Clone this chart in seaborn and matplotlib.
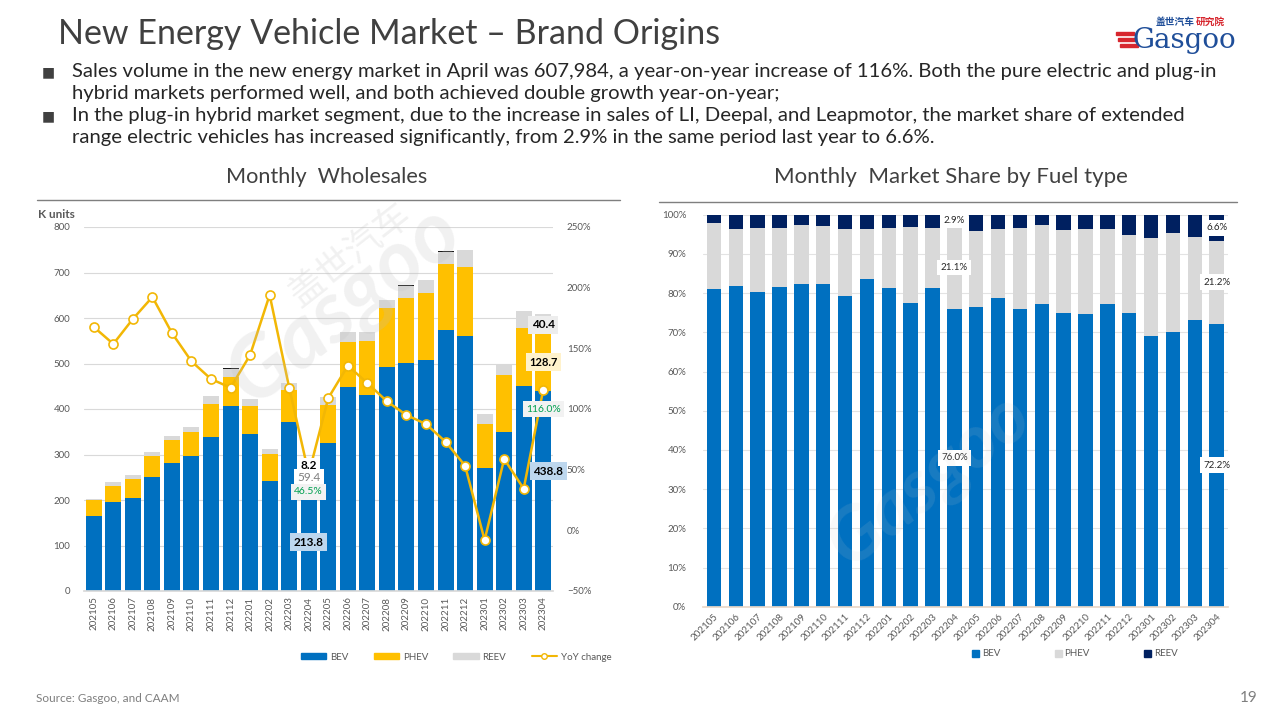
import numpy as np
import pandas as pd
import matplotlib
matplotlib.use("Agg")
import matplotlib.pyplot as plt
from matplotlib.patches import Patch, Rectangle
from matplotlib.lines import Line2D
from matplotlib.ticker import PercentFormatter
import seaborn as sns

# ---- data ----
months = ['202105', '202106', '202107', '202108', '202109', '202110', '202111', '202112',
          '202201', '202202', '202203', '202204', '202205', '202206', '202207', '202208',
          '202209', '202210', '202211', '202212', '202301', '202302', '202303', '202304']

# monthly wholesales, K units
bev = [165, 196, 205, 251, 282, 297, 339, 407, 344, 242, 372, 213.8,
       326, 448, 431, 493, 502, 508, 574, 561, 271, 349, 450, 438.8]
phev = [35, 35, 42, 46, 50, 53, 73, 64, 63, 59, 70, 59.4,
        83, 99, 118, 128, 143, 147, 144, 150, 96, 126, 129, 128.7]
reev = [2, 9, 8, 8, 8, 11, 16, 17, 15, 12, 16, 8.2,
        17, 22, 20, 18, 26, 28, 27, 38, 23, 24, 36, 40.4]
fcev = [0, 0, 0, 0, 0, 0, 0, 1.5, 0, 0, 0, 0,
        0, 0, 0, 1.5, 1.5, 1.5, 1.5, 0, 0, 0, 0, 0]
yoy = [167.6, 153.6, 174.2, 192.3, 162.6, 139.3, 124.7, 117.6, 144.5, 194.0, 117.6, 46.5,
       109.0, 135.7, 121.4, 106.3, 95.0, 87.6, 73.0, 53.3, -8.0, 58.8, 34.3, 116.0]

# market share by fuel type, %
bev_share = [81.0, 81.9, 80.4, 81.6, 82.3, 82.3, 79.3, 83.7, 81.3, 77.4, 81.3, 76.0,
             76.5, 78.8, 75.9, 77.2, 74.9, 74.6, 77.2, 74.9, 69.1, 70.1, 73.1, 72.2]
phev_share = [17.0, 14.4, 16.1, 15.0, 15.0, 14.8, 17.0, 12.6, 15.3, 19.5, 15.3, 21.1,
              19.3, 17.5, 20.7, 20.2, 21.2, 21.7, 19.1, 19.9, 25.0, 25.2, 21.2, 21.2]
reev_share = [2.0, 3.7, 3.5, 3.4, 2.7, 2.9, 3.7, 3.7, 3.4, 3.1, 3.4, 2.9,
              4.2, 3.7, 3.4, 2.6, 3.9, 3.7, 3.7, 5.2, 5.9, 4.7, 5.7, 6.6]

title = "New Energy Vehicle Market \u2013 Brand Origins"
bullets = [
    ["Sales volume in the new energy market in April was 607,984, a year-on-year increase of 116%. Both the pure electric and plug-in",
     "hybrid markets performed well, and both achieved double growth year-on-year;"],
    ["In the plug-in hybrid market segment, due to the increase in sales of LI, Deepal, and Leapmotor, the market share of extended",
     "range electric vehicles has increased significantly, from 2.9% in the same period last year to 6.6%."],
]

BLUE = "#0070C0"
GOLD = "#FFC000"
LGRAY = "#D9D9D9"
NAVY = "#002060"
LINE = "#F2B705"
TICK = "#595959"

sns.set_theme(style="white")
plt.rcParams['font.family'] = ['Lato', 'DejaVu Sans']

W, H = 1280, 720
fig = plt.figure(figsize=(12.8, 7.2), dpi=100)
fig.patch.set_facecolor("white")


def box(x0, y0, x1, y1):
    return [x0 / W, 1 - y1 / H, (x1 - x0) / W, (y1 - y0) / H]


def fx(x):
    return x / W


def fy(y):
    return 1 - y / H


# ---- header ----
fig.text(fx(58), fy(34), title, fontsize=24.5, color="#404040", va="center")
by = [72, 116]
for yy, lines in zip(by, bullets):
    fig.text(fx(42), fy(yy), "\u25A0", fontsize=10, color="#404040", va="center",
             family=['DejaVu Sans'])
    for j, ln in enumerate(lines):
        fig.text(fx(72), fy(yy + j * 22), ln, fontsize=14.6, color="#262626", va="center")

# logo
fig.text(fx(1156), fy(22), "盖世汽车", fontsize=7, color="#1F4E99", va="center",
         family=['Noto Sans CJK SC'], fontweight="bold")
fig.text(fx(1196), fy(22), "研究院", fontsize=7, color="#D7262E", va="center",
         family=['Noto Sans CJK SC'], fontweight="bold")
fig.text(fx(1133), fy(40), "Gasgoo", fontsize=20, color="#1F4E99", va="center",
         family=['DejaVu Serif'])
for i, yy in enumerate([32, 38, 44]):
    fig.add_artist(Rectangle((fx(1116 + i * 2), fy(yy + 3)), 18 / W, 3.5 / H,
                             color="#D7262E", transform=fig.transFigure))

# section headers
fig.text(fx(327), fy(177), "Monthly  Wholesales", fontsize=15.6, color="#404040",
         ha="center", va="center")
fig.text(fx(951), fy(177), "Monthly  Market Share by Fuel type", fontsize=16, color="#404040",
         ha="center", va="center")
fig.add_artist(Line2D([fx(37), fx(620)], [fy(200), fy(200)], color="#7F7F7F", lw=1))
fig.add_artist(Line2D([fx(659), fx(1237)], [fy(202), fy(202)], color="#7F7F7F", lw=1))

# ---- left chart ----
ax1 = fig.add_axes(box(84, 227, 553, 591))
x = np.arange(len(months))
s1 = np.array(bev)
s2 = s1 + np.array(phev)
s3 = s2 + np.array(reev)
s4 = s3 + np.array(fcev)
for vals, col in [(s4, "#1A1A1A"), (s3, LGRAY), (s2, GOLD), (s1, BLUE)]:
    sns.barplot(x=months, y=vals, color=col, saturation=1, width=0.82, ax=ax1,
                linewidth=0, zorder=2)
ax1.set_ylim(0, 800)
ax1.set_xlim(-0.5, len(months) - 0.5)
ax1.set_yticks(range(0, 801, 100))
ax1.yaxis.grid(True, color="#D9D9D9", lw=0.8)
ax1.set_axisbelow(True)
ax1.set_xlabel("")
ax1.set_ylabel("")
for sp in ax1.spines.values():
    sp.set_visible(False)
ax1.spines["bottom"].set_visible(True)
ax1.spines["bottom"].set_color("#D9D9D9")
ax1.tick_params(axis="y", labelsize=7, labelcolor=TICK, length=0, pad=10)
ax1.tick_params(axis="x", labelsize=7, labelcolor=TICK, length=0, pad=4, rotation=90)

ax2 = ax1.twinx()
sns.lineplot(x=x, y=np.array(yoy) / 100, ax=ax2, color=LINE, lw=1.8, marker="o",
             markersize=6.5, markerfacecolor="white", markeredgecolor=LINE,
             markeredgewidth=1.2, zorder=3)
ax2.set_ylim(-0.5, 2.5)
ax2.set_yticks(np.arange(-0.5, 2.51, 0.5))
ax2.yaxis.set_major_formatter(PercentFormatter(1.0, decimals=0))
ax2.tick_params(axis="y", labelsize=7, labelcolor=TICK, length=0, pad=10)
ax2.set_ylabel("")
for sp in ax2.spines.values():
    sp.set_visible(False)

fig.text(fx(38), fy(214), "K units", fontsize=8.5, color=TICK, fontweight="bold", va="center")


def lab(i, yv, txt, fc, color="black", bold=True, trans=None, dy=0, fs=8.5, pad=0.3):
    ax2.annotate(txt, (i, yv), xycoords=trans or ax1.transData, xytext=(0, dy),
                 textcoords="offset points", ha="center", va="center", fontsize=fs,
                 color=color, fontweight="bold" if bold else "normal", zorder=6,
                 bbox=dict(boxstyle=f"square,pad={pad}", fc=fc, ec="none"))


k = 11
lab(k, s1[k] + phev[k] / 2 + 5, f"{phev[k]:.1f}", "white", color="#7F7F7F", bold=False)
lab(k, s2[k] + 3, f"{reev[k]:.1f}", "white", pad=0.12)
lab(k, yoy[k] / 100, f"{yoy[k]:.1f}%", "#F2F2F2", color="#00A050", bold=False,
    trans=ax2.transData, dy=-13, fs=7.5)
lab(k, bev[k] / 2, f"{bev[k]:.1f}", "#BDD7EE")
k = 23
lab(k, s3[k] - reev[k] / 2 - 3, f"{reev[k]:.1f}", "#EDEDED")
lab(k, s1[k] + phev[k] / 2, f"{phev[k]:.1f}", "#FFF2CC", fs=8)
lab(k, yoy[k] / 100, f"{yoy[k]:.1f}%", "#F2F2F2", color="#00A050", bold=False,
    trans=ax2.transData, dy=-14, fs=7.5)
lab(k + 0.25, bev[k] * 0.6, f"{bev[k]:.1f}", "#BDD7EE")

# watermark
fig.text(fx(345), fy(305), "Gasgoo", fontsize=62, color="#BFBFBF", alpha=0.22,
         rotation=38, ha="center", va="center", fontweight="bold", style="italic")
fig.text(fx(350), fy(255), "盖世汽车", fontsize=26, color="#BFBFBF", alpha=0.22,
         rotation=38, ha="center", va="center", family=['Noto Sans CJK SC'])

leg1 = [Patch(color=BLUE, label="BEV"), Patch(color=GOLD, label="PHEV"),
        Patch(color=LGRAY, label="REEV"),
        Line2D([], [], color=LINE, lw=1.5, marker="o", markersize=4,
               markerfacecolor="white", label="YoY change")]
fig.legend(handles=leg1, loc="center", bbox_to_anchor=(fx(456), fy(657)), ncol=4,
           frameon=False, fontsize=7, handlelength=2.6, handleheight=0.6,
           columnspacing=2.6, labelcolor=TICK, handletextpad=0.4)

# ---- right chart ----
ax3 = fig.add_axes(box(703, 214.7, 1227.6, 606.7))
r1 = np.array(bev_share) / 100
r2 = r1 + np.array(phev_share) / 100
r3 = r2 + np.array(reev_share) / 100
for vals, col in [(r3, NAVY), (r2, LGRAY), (r1, BLUE)]:
    sns.barplot(x=months, y=vals, color=col, saturation=1, width=0.66, ax=ax3,
                linewidth=0, zorder=2)
ax3.set_ylim(0, 1.0)
ax3.set_xlim(-0.5, len(months) - 0.5)
ax3.set_yticks(np.arange(0, 1.01, 0.1))
ax3.yaxis.set_major_formatter(PercentFormatter(1.0, decimals=0))
ax3.yaxis.grid(True, color="#E3E3E3", lw=0.8)
ax3.set_axisbelow(True)
ax3.set_xlabel("")
ax3.set_ylabel("")
for sp in ax3.spines.values():
    sp.set_visible(False)
ax3.spines["bottom"].set_visible(True)
ax3.spines["bottom"].set_color("#EAD8C8")
ax3.tick_params(axis="y", labelsize=7, labelcolor=TICK, length=0, pad=12)
ax3.tick_params(axis="x", labelsize=7, labelcolor=TICK, length=0, pad=4)
plt.setp(ax3.get_xticklabels(), rotation=45, ha="right", rotation_mode="anchor")

for k in (11, 23):
    for yv, v in [(r1[k] / 2, bev_share[k]), ((r1[k] + r2[k]) / 2, phev_share[k]),
                  ((r2[k] + r3[k]) / 2, reev_share[k])]:
        ax3.text(k, yv, f"{v:.1f}%", ha="center", va="center", fontsize=7, color="#262626",
                 zorder=6, bbox=dict(boxstyle="square,pad=0.35", fc="white", ec="none"))

fig.text(fx(930), fy(480), "Gasgoo", fontsize=54, color="#D0D0D0", alpha=0.12,
         rotation=38, ha="center", va="center", fontweight="bold", style="italic")

leg2 = [Patch(color=BLUE, label="BEV"), Patch(color=LGRAY, label="PHEV"),
        Patch(color=NAVY, label="REEV")]
fig.legend(handles=leg2, loc="center", bbox_to_anchor=(fx(1075), fy(654)), ncol=3,
           frameon=False, fontsize=7, handlelength=0.7, handleheight=0.7,
           columnspacing=5.6, labelcolor=TICK, handletextpad=0.3)

# ---- footer ----
fig.text(fx(36), fy(698), "Source: Gasgoo, and CAAM", fontsize=8.5, color="#7F7F7F",
         va="center")
fig.text(fx(1258), fy(698), "19", fontsize=11, color="#7F7F7F", ha="right", va="center")

fig.savefig("out.png", dpi=100)
